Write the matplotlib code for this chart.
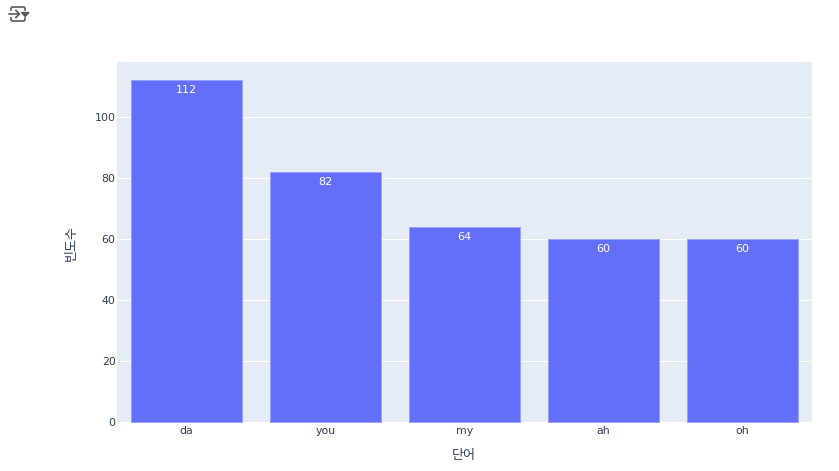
import matplotlib.pyplot as plt
from matplotlib.lines import Line2D
from matplotlib.patches import Polygon

plt.rcParams['font.family'] = ['DejaVu Sans', 'Noto Sans CJK KR']

words = ['da', 'you', 'my', 'ah', 'oh']
counts = [112, 82, 64, 60, 60]
y_ticks = [0, 20, 40, 60, 80, 100]

W, H = 839, 471
left, right, top, bottom = 117, 812, 62, 422
text_color = '#2a3f5f'

fig = plt.figure(figsize=(W / 100, H / 100), dpi=100)
ax = fig.add_axes([left / W, 1 - bottom / H, (right - left) / W, (bottom - top) / H])
ax.set_facecolor('#e5ecf6')

ax.set_axisbelow(True)
ax.grid(axis='y', color='white', linewidth=0.72)
bars = ax.bar(words, counts, width=0.8, color='#636efa', edgecolor='#9aa1fb', linewidth=0.72, clip_on=False)

# labels sit inside the bar, near the top
for bar, c in zip(bars, counts):
    ax.annotate(str(c), (bar.get_x() + bar.get_width() / 2, c), xytext=(0, -3.8),
                textcoords='offset points', ha='center', va='top', color='white', fontsize=8)

ax.set_xlim(-0.5, 4.5)
ax.set_ylim(0, 117.9)
ax.set_yticks(y_ticks)
ax.tick_params(axis='both', length=0, labelcolor=text_color, labelsize=7.9)
ax.tick_params(axis='x', pad=3)
ax.tick_params(axis='y', pad=1)
for s in ax.spines.values():
    s.set_visible(False)

fig.text(464 / W, 1 - 455 / H, '단어', ha='center', va='center', color=text_color, fontsize=9.4)
fig.text(71 / W, 1 - 243 / H, '빈도수', ha='center', va='center', rotation=90, color=text_color, fontsize=9.4)

# output toggle icon at the top left
icon = '#5a5a5a'
def px_line(xs, ys, lw=1.2):
    fig.add_artist(Line2D([x / W for x in xs], [1 - y / H for y in ys], color=icon, linewidth=lw))

px_line([11, 11, 12, 24, 25, 25], [10, 8, 7, 7, 8, 10])
px_line([11, 11, 12, 24, 25, 25], [18, 20, 21, 21, 20, 18])
px_line([9, 19], [14, 14])
px_line([16, 19.5, 16], [10.5, 14, 17.5])
fig.add_artist(Polygon([(21.5 / W, 1 - 12.5 / H), (29 / W, 1 - 12.5 / H), (25.2 / W, 1 - 16.5 / H)],
                       closed=True, color=icon, transform=fig.transFigure))

fig.savefig('out.png', dpi=100)
